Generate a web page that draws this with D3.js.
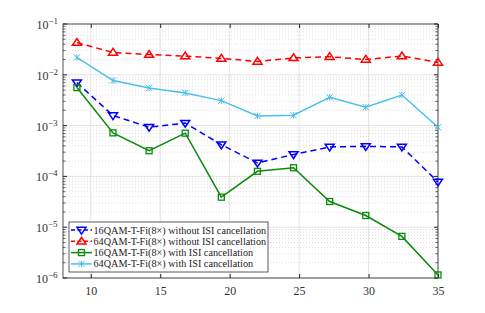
<!DOCTYPE html>
<html>
<head>
<meta charset="utf-8">
<script src="https://cdn.jsdelivr.net/npm/d3@7"></script>
<style>
body { margin: 0; background: #fff; }
</style>
</head>
<body>
<div class="chart"></div>
<script>
const W = 485, H = 313;
const margin = ({top: 24, right: 47, bottom: 35, left: 63});
const width = W - margin.left - margin.right,
      height = H - margin.top - margin.bottom;
const serif = "'Liberation Serif', 'Times New Roman', 'DejaVu Serif', serif";

// data
const snr = [9, 11.6, 14.2, 16.8, 19.4, 22, 24.6, 27.2, 29.8, 32.4, 35];
const qam16NoIsi = [7.0e-3, 1.58e-3, 9.3e-4, 1.12e-3, 4.2e-4, 1.84e-4, 2.7e-4, 3.8e-4, 3.9e-4, 3.8e-4, 7.8e-5];
const qam64NoIsi = [4.3e-2, 2.75e-2, 2.5e-2, 2.34e-2, 2.1e-2, 1.83e-2, 2.15e-2, 2.27e-2, 2.0e-2, 2.34e-2, 1.75e-2];
const qam16Isi = [5.6e-3, 7.2e-4, 3.2e-4, 7.1e-4, 3.9e-5, 1.26e-4, 1.48e-4, 3.2e-5, 1.7e-5, 6.6e-6, 1.15e-6];
const qam64Isi = [2.2e-2, 7.7e-3, 5.5e-3, 4.4e-3, 3.1e-3, 1.55e-3, 1.6e-3, 3.6e-3, 2.3e-3, 4.0e-3, 9.3e-4];
const xTicks = [10, 15, 20, 25, 30, 35];
const yExps = [-6, -5, -4, -3, -2, -1];

const series = [
  {name: "16QAM-T-Fi(8\u00d7) without ISI cancellation", values: qam16NoIsi, color: "#0000ff", dash: "6,4", marker: "tri-down"},
  {name: "64QAM-T-Fi(8\u00d7) without ISI cancellation", values: qam64NoIsi, color: "#ff0000", dash: "6,4", marker: "tri-up"},
  {name: "16QAM-T-Fi(8\u00d7) with ISI cancellation", values: qam16Isi, color: "#0a8a0a", dash: null, marker: "square"},
  {name: "64QAM-T-Fi(8\u00d7) with ISI cancellation", values: qam64Isi, color: "#4dbeee", dash: null, marker: "star"}
];

const svg = d3.select(".chart").append("svg")
    .attr("width", W)
    .attr("height", H)
    .attr("font-family", serif)
  .append("g")
    .attr("transform", "translate(" + margin.left + "," + margin.top + ")");

const x = d3.scaleLinear().domain([8, 35]).range([0, width]);
const y = d3.scaleLog().domain([1e-6, 1e-1]).range([height, 0]);

// minor grid (dotted)
const minor = [];
yExps.slice(0, -1).forEach(e => {
  for (let k = 2; k <= 9; k++) minor.push(k * Math.pow(10, e));
});
svg.append("g").selectAll("line").data(minor).enter().append("line")
    .attr("x1", 0).attr("x2", width)
    .attr("y1", d => y(d)).attr("y2", d => y(d))
    .attr("stroke", "#d0d0d0").attr("stroke-width", 0.7)
    .attr("stroke-dasharray", "1,2");

// major grid
svg.append("g").selectAll("line").data(yExps).enter().append("line")
    .attr("x1", 0).attr("x2", width)
    .attr("y1", d => y(Math.pow(10, d))).attr("y2", d => y(Math.pow(10, d)))
    .attr("stroke", "#e3e3e3").attr("stroke-width", 1);
svg.append("g").selectAll("line").data(xTicks).enter().append("line")
    .attr("x1", d => x(d)).attr("x2", d => x(d))
    .attr("y1", 0).attr("y2", height)
    .attr("stroke", "#e3e3e3").attr("stroke-width", 1);

// axes box with inward ticks
const axisColor = "#262626";
svg.append("rect").attr("width", width).attr("height", height)
    .attr("fill", "none").attr("stroke", axisColor).attr("stroke-width", 0.8);

svg.append("g").attr("transform", "translate(0," + height + ")")
    .call(d3.axisBottom(x).tickValues(xTicks).tickSizeInner(-4).tickSizeOuter(0).tickPadding(8))
    .attr("font-family", serif)
    .call(g => g.select(".domain").remove())
    .call(g => g.selectAll("line").attr("stroke", axisColor))
    .call(g => g.selectAll("text").attr("font-size", 12).attr("fill", "#333"));
svg.append("g")
    .call(d3.axisTop(x).tickValues(xTicks).tickSizeInner(-4).tickSizeOuter(0).tickFormat(""))
    .call(g => g.select(".domain").remove())
    .call(g => g.selectAll("line").attr("stroke", axisColor));

const yMajor = yExps.map(e => Math.pow(10, e));
[0, width].forEach((xp, i) => {
  const g = svg.append("g").attr("transform", "translate(" + xp + ",0)");
  g.selectAll("line.maj").data(yMajor).enter().append("line")
      .attr("x1", 0).attr("x2", i ? -4 : 4)
      .attr("y1", d => y(d)).attr("y2", d => y(d)).attr("stroke", axisColor);
  g.selectAll("line.min").data(minor).enter().append("line")
      .attr("x1", 0).attr("x2", i ? -2.5 : 2.5)
      .attr("y1", d => y(d)).attr("y2", d => y(d)).attr("stroke", axisColor).attr("stroke-width", 0.7);
});

// y tick labels as 10^e
const yl = svg.append("g").selectAll("text").data(yExps).enter().append("text")
    .attr("y", d => y(Math.pow(10, d)) + 5)
    .attr("fill", "#333").attr("font-size", 12);
yl.append("tspan").text("10");
yl.append("tspan").attr("dy", -5).attr("font-size", 9).text(d => "\u2212" + Math.abs(d));
yl.each(function() {
  const bb = this.getBBox();
  d3.select(this).attr("x", -5 - bb.width);
});

// markers
function drawMarker(g, type, color, cx, cy) {
  if (type === "tri-down" || type === "tri-up") {
    const s = type === "tri-up" ? -1 : 1, r = 4.5;
    g.append("path")
      .attr("d", "M" + (cx - r) + "," + (cy - s * r * 0.6) + "L" + (cx + r) + "," + (cy - s * r * 0.6) + "L" + cx + "," + (cy + s * r * 0.9) + "Z")
      .attr("fill", "none").attr("stroke", color).attr("stroke-width", 1.5);
  } else if (type === "square") {
    g.append("rect").attr("x", cx - 3).attr("y", cy - 3).attr("width", 6).attr("height", 6)
      .attr("fill", "none").attr("stroke", color).attr("stroke-width", 1.3);
  } else {
    const r = 3.2;
    g.append("path")
      .attr("d", "M" + (cx - r) + "," + (cy - r) + "L" + (cx + r) + "," + (cy + r) + "M" + (cx - r) + "," + (cy + r) + "L" + (cx + r) + "," + (cy - r) + "M" + cx + "," + (cy - r) + "L" + cx + "," + (cy + r))
      .attr("stroke", color).attr("stroke-width", 1);
  }
}

const line = d3.line().x((d, i) => x(snr[i])).y(d => y(d));

series.forEach(s => {
  const g = svg.append("g");
  g.append("path").datum(s.values)
    .attr("d", line)
    .attr("fill", "none").attr("stroke", s.color).attr("stroke-width", 1.5)
    .attr("stroke-dasharray", s.dash);
  s.values.forEach((v, i) => drawMarker(g, s.marker, s.color, x(snr[i]), y(v)));
});

// legend
const lg = svg.append("g").attr("transform", "translate(6,198)");
lg.append("rect").attr("width", 199).attr("height", 50)
    .attr("fill", "#fff").attr("stroke", "#333").attr("stroke-width", 0.8);
series.forEach((s, i) => {
  const ly = 8 + i * 11.3;
  lg.append("line").attr("x1", 2).attr("x2", 23).attr("y1", ly).attr("y2", ly)
    .attr("stroke", s.color).attr("stroke-width", 1.5).attr("stroke-dasharray", s.dash ? "4,2.5" : null);
  drawMarker(lg, s.marker, s.color, 12.5, ly);
  lg.append("text").attr("x", 24.5).attr("y", ly + 3.5)
    .attr("font-size", 10.2).attr("fill", "#222").text(s.name);
});
</script>
</body>
</html>
